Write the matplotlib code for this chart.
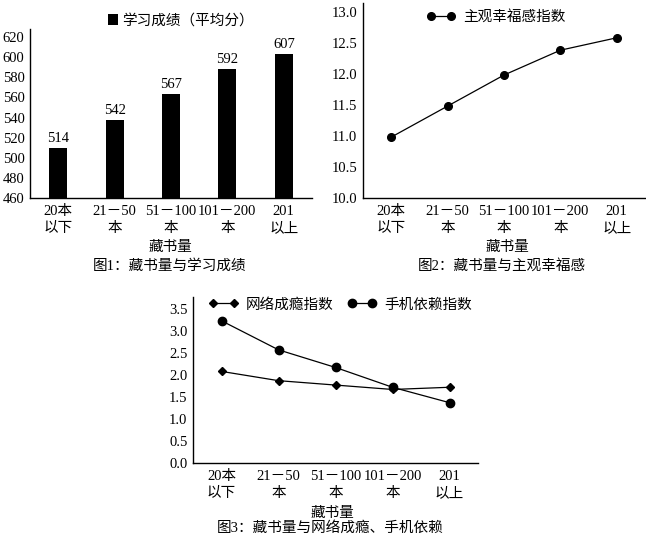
import matplotlib
matplotlib.use("Agg")
import matplotlib.pyplot as plt

plt.rcParams['font.family'] = ['Liberation Serif', 'Noto Sans CJK SC', 'DejaVu Sans']
plt.rcParams['font.size'] = 10.5

# data
categories = ["20本\n以下", "21－50\n本", "51－100\n本", "101－200\n本", "201\n以上"]
score_bars = [510, 538, 563, 588, 603]
score_labels = ["514", "542", "567", "592", "607"]
happiness = [10.98, 11.48, 11.98, 12.38, 12.58]
internet_addiction = [2.08, 1.87, 1.77, 1.67, 1.72]
phone_dependence = [3.23, 2.57, 2.17, 1.72, 1.37]

x = list(range(len(categories)))

W, H = 646, 541
fig = plt.figure(figsize=(W / 100, H / 100), dpi=100)

def px_text(px, py, s):
	fig.text(px / W, 1 - py / H, s, ha="center", va="center")

def style(ax):
	for s in ["top", "right"]:
		ax.spines[s].set_visible(False)
	for s in ["left", "bottom"]:
		ax.spines[s].set_linewidth(1.0)
	ax.tick_params(axis="y", length=0, pad=4)
	ax.tick_params(axis="x", length=0, pad=5)
	ax.set_xticks(x)
	ax.set_xticklabels(categories, linespacing=1.45)
	ax.set_xlim(-0.5, 4.5)

# figure 1
ax1 = fig.add_axes([30 / W, 1 - 198 / H, 282 / W, 169 / H])
ax1.bar(x, score_bars, width=0.32, color="black", label="学习成绩（平均分）")
for xi, h, t in zip(x, score_bars, score_labels):
	ax1.text(xi, h + 3, t, ha="center", va="bottom", fontsize=10.5)
ax1.set_ylim(460, 628)
ax1.set_yticks(range(460, 621, 20))
style(ax1)
ax1.legend(loc="center", bbox_to_anchor=(0.535, 1.05), frameon=False,
	handlelength=0.7, handleheight=0.7, handletextpad=0.3, borderpad=0)
px_text(170, 247, "藏书量")
px_text(170, 266, "图1：藏书量与学习成绩")

# figure 2
ax2 = fig.add_axes([363 / W, 1 - 198 / H, 282 / W, 195 / H])
ax2.plot(x, happiness, color="black", lw=0.9, marker="o", markersize=5.5, label="主观幸福感指数")
ax2.set_ylim(10.0, 13.14)
ax2.set_yticks([10.0, 10.5, 11.0, 11.5, 12.0, 12.5, 13.0])
ax2.set_yticklabels([f"{v:.1f}" for v in ax2.get_yticks()])
style(ax2)
ax2.legend(loc="upper left", bbox_to_anchor=(0.2, 1.0), frameon=False, numpoints=2,
	handlelength=2.0, handletextpad=0.5, borderpad=0)
px_text(507, 247, "藏书量")
px_text(502, 266, "图2：藏书量与主观幸福感")

# figure 3
ax3 = fig.add_axes([193 / W, 1 - 463 / H, 285 / W, 166 / H])
ax3.plot(x, internet_addiction, color="black", lw=0.9, marker="D", markersize=3.8, label="网络成瘾指数")
ax3.plot(x, phone_dependence, color="black", lw=0.9, marker="o", markersize=6, label="手机依赖指数")
ax3.set_ylim(0, 3.77)
ax3.set_yticks([0.0, 0.5, 1.0, 1.5, 2.0, 2.5, 3.0, 3.5])
ax3.set_yticklabels([f"{v:.1f}" for v in ax3.get_yticks()])
style(ax3)
ax3.legend(loc="upper left", bbox_to_anchor=(0.03, 1.04), frameon=False, numpoints=2, ncol=2,
	handlelength=2.0, handletextpad=0.5, columnspacing=1.0, borderpad=0)
px_text(332, 513, "藏书量")
px_text(330, 528, "图3：藏书量与网络成瘾、手机依赖")

fig.savefig("out.png", dpi=100)
